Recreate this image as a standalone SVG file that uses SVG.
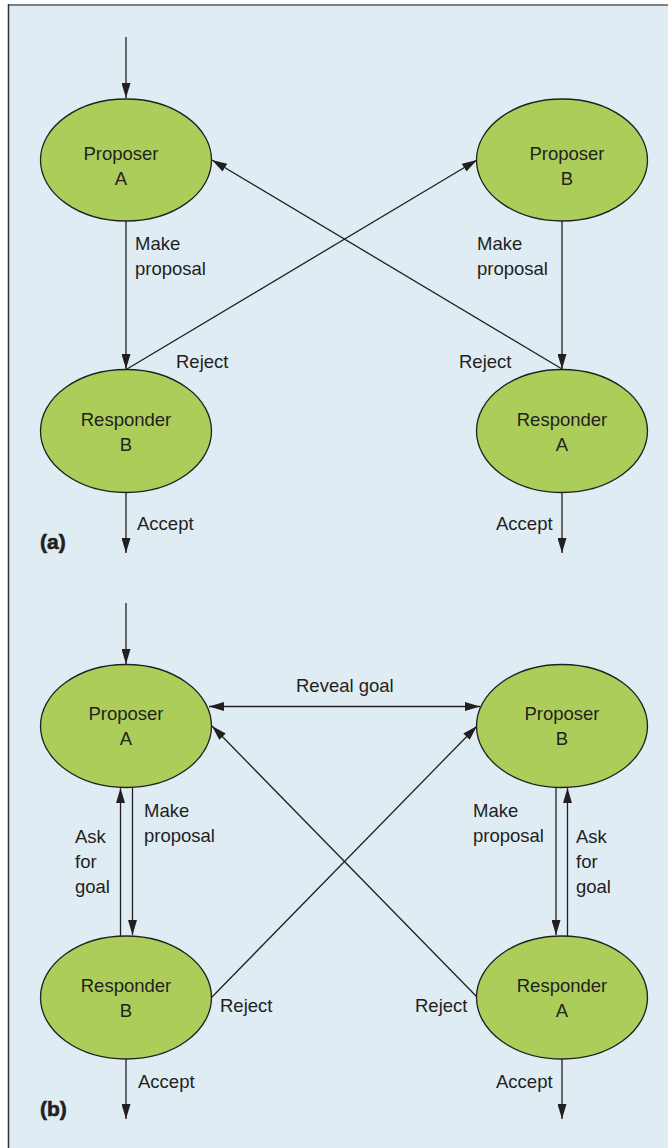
<svg xmlns="http://www.w3.org/2000/svg" width="668" height="1148" viewBox="0 0 668 1148">
<style>
.node{fill:#adcd5a;stroke:#231f20;stroke-width:1.3}
.lbl{font-family:"Liberation Sans",Arial,sans-serif;font-size:18.5px;fill:#231f20}
.nt{font-family:"Liberation Sans",Arial,sans-serif;font-size:18.5px;fill:#231f20;text-anchor:middle}
.tag{font-family:"Liberation Sans",Arial,sans-serif;font-size:21px;font-weight:900;fill:#231f20;stroke:#231f20;stroke-width:0.6}
.c{stroke:#231f20;stroke-width:1.3;fill:none}
</style>
<defs>
<marker id="ah" viewBox="0 0 15 9" refX="15" refY="4.5" markerWidth="15" markerHeight="9" markerUnits="userSpaceOnUse" orient="auto-start-reverse">
<path d="M0,0 L15,4.5 L0,9 Z" fill="#231f20"/>
</marker>
</defs>
<rect x="0" y="0" width="668" height="1148" fill="#ffffff"/>
<rect x="8" y="5" width="660" height="1143" fill="#dfecf3"/>
<line x1="8" y1="5" x2="668" y2="5" stroke="#808080" stroke-width="2"/>
<line x1="8.5" y1="4" x2="8.5" y2="1148" stroke="#333333" stroke-width="1.5"/>

<g id="connectors">
<!-- panel a -->
<line class="c" x1="126" y1="37" x2="126" y2="98" marker-end="url(#ah)"/>
<line class="c" x1="126" y1="221" x2="126" y2="369" marker-end="url(#ah)"/>
<line class="c" x1="562" y1="221" x2="562" y2="369" marker-end="url(#ah)"/>
<line class="c" x1="127" y1="369" x2="477" y2="160" marker-end="url(#ah)"/>
<line class="c" x1="562" y1="369" x2="212" y2="160" marker-end="url(#ah)"/>
<line class="c" x1="126" y1="493" x2="126" y2="553" marker-end="url(#ah)"/>
<line class="c" x1="562" y1="493" x2="562" y2="553" marker-end="url(#ah)"/>
<!-- panel b -->
<line class="c" x1="126" y1="603" x2="126" y2="664" marker-end="url(#ah)"/>
<line class="c" x1="209" y1="706.5" x2="480" y2="706.5" marker-start="url(#ah)" marker-end="url(#ah)"/>
<line class="c" x1="212" y1="997" x2="477" y2="726" marker-end="url(#ah)"/>
<line class="c" x1="477" y1="997" x2="212" y2="726" marker-end="url(#ah)"/>
<line class="c" x1="132.5" y1="787" x2="132.5" y2="935" marker-end="url(#ah)"/>
<line class="c" x1="120.5" y1="936" x2="120.5" y2="788" marker-end="url(#ah)"/>
<line class="c" x1="556" y1="787" x2="556" y2="935" marker-end="url(#ah)"/>
<line class="c" x1="567.5" y1="936" x2="567.5" y2="788" marker-end="url(#ah)"/>
<line class="c" x1="126" y1="1059" x2="126" y2="1119" marker-end="url(#ah)"/>
<line class="c" x1="562" y1="1059" x2="562" y2="1119" marker-end="url(#ah)"/>
</g>

<g id="edge-labels">
<text class="lbl" x="135" y="250">Make</text>
<text class="lbl" x="135" y="275">proposal</text>
<text class="lbl" x="477" y="250">Make</text>
<text class="lbl" x="477" y="275">proposal</text>
<text class="lbl" x="176" y="368">Reject</text>
<text class="lbl" x="459" y="368">Reject</text>
<text class="lbl" x="137" y="530">Accept</text>
<text class="lbl" x="496" y="530">Accept</text>
<text class="lbl" x="296" y="692">Reveal goal</text>
<text class="lbl" x="144" y="817">Make</text>
<text class="lbl" x="144" y="842">proposal</text>
<text class="lbl" x="75" y="843">Ask</text>
<text class="lbl" x="75" y="868">for</text>
<text class="lbl" x="75" y="893">goal</text>
<text class="lbl" x="473" y="817">Make</text>
<text class="lbl" x="473" y="842">proposal</text>
<text class="lbl" x="576" y="843">Ask</text>
<text class="lbl" x="576" y="868">for</text>
<text class="lbl" x="576" y="893">goal</text>
<text class="lbl" x="220" y="1012">Reject</text>
<text class="lbl" x="415" y="1012">Reject</text>
<text class="lbl" x="138" y="1088">Accept</text>
<text class="lbl" x="496" y="1088">Accept</text>
<text class="tag" x="40" y="549">(a)</text>
<text class="tag" x="40" y="1116">(b)</text>
</g>

<g id="a-proposer-a">
<ellipse class="node" cx="126" cy="160" rx="85.5" ry="61"/>
<text class="nt" x="121" y="160">Proposer</text>
<text class="nt" x="121" y="185">A</text>
</g>
<g id="a-proposer-b">
<ellipse class="node" cx="562" cy="160" rx="85.5" ry="61"/>
<text class="nt" x="567" y="160">Proposer</text>
<text class="nt" x="567" y="185">B</text>
</g>
<g id="a-responder-b">
<ellipse class="node" cx="126" cy="431" rx="85.5" ry="61.5"/>
<text class="nt" x="126" y="426">Responder</text>
<text class="nt" x="126" y="451">B</text>
</g>
<g id="a-responder-a">
<ellipse class="node" cx="562" cy="431" rx="85.5" ry="61.5"/>
<text class="nt" x="562" y="426">Responder</text>
<text class="nt" x="562" y="451">A</text>
</g>

<g id="b-proposer-a">
<ellipse class="node" cx="126" cy="726" rx="85.5" ry="61.5"/>
<text class="nt" x="126" y="720">Proposer</text>
<text class="nt" x="126" y="745">A</text>
</g>
<g id="b-proposer-b">
<ellipse class="node" cx="562" cy="726" rx="85.5" ry="61.5"/>
<text class="nt" x="562" y="720">Proposer</text>
<text class="nt" x="562" y="745">B</text>
</g>
<g id="b-responder-b">
<ellipse class="node" cx="126" cy="997.5" rx="85.5" ry="61.5"/>
<text class="nt" x="126" y="992">Responder</text>
<text class="nt" x="126" y="1017">B</text>
</g>
<g id="b-responder-a">
<ellipse class="node" cx="562" cy="997.5" rx="85.5" ry="61.5"/>
<text class="nt" x="562" y="992">Responder</text>
<text class="nt" x="562" y="1017">A</text>
</g>
</svg>
